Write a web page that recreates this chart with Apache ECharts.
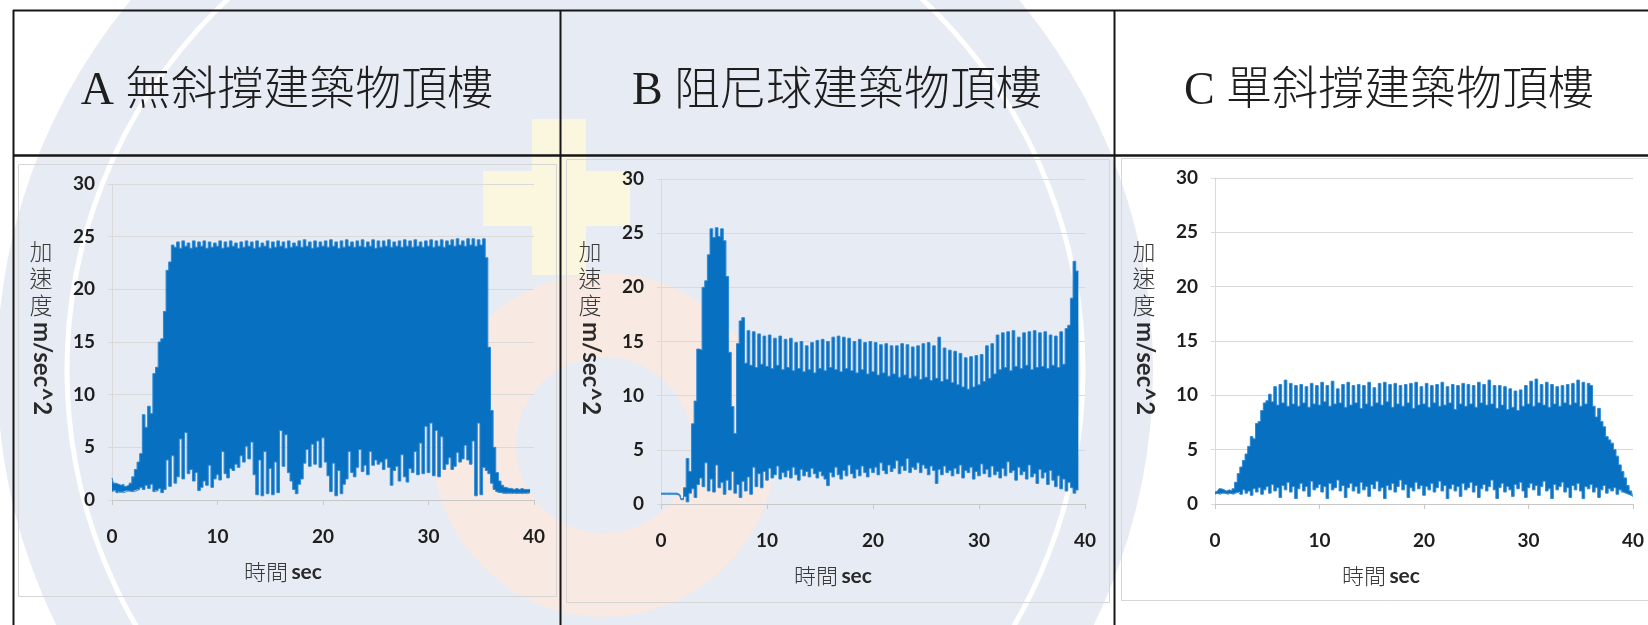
<!DOCTYPE html>
<html>
<head>
<meta charset="utf-8">
<script src="https://cdn.jsdelivr.net/npm/echarts@6/dist/echarts.min.js"></script>
<style>
  html, body { margin: 0; padding: 0; background: #ffffff; }
  #chart { width: 1648px; height: 625px; }
</style>
</head>
<body>
<div id="chart"></div>
<script>
// Rooftop acceleration records, sampled every 0.25 s (envelope of the oscillation).
const SAMPLE_STEP = 0.25;

const panelTitles = ['A 無斜撐建築物頂樓', 'B 阻尼球建築物頂樓', 'C 單斜撐建築物頂樓'];
const timeTicks = [0, 10, 20, 30, 40];
const accelTicks = [0, 5, 10, 15, 20, 25, 30];
const yAxisTitle = ['加速度', 'm/sec^2'];
const xAxisTitle = ['時間', 'sec'];

// A: no bracing — peak / trough envelope (m/sec^2)
const upperA = [
  2.1, 1.6, 1.5, 1.4, 1.5, 1.3, 1.4, 1.6,
  2.2, 2.9, 3.6, 4.4, 8.1, 6.9, 8.9, 8.2,
  12.0, 12.6, 15.0, 15.3, 17.9, 21.8, 22.6, 24.2,
  24.0, 24.5, 23.9, 24.6, 24.1, 24.4, 23.9, 24.6,
  24.0, 24.5, 24.1, 24.6, 23.9, 24.5, 24.0, 24.4,
  24.1, 24.6, 23.9, 24.5, 24.0, 24.6, 24.1, 24.4,
  23.9, 24.5, 24.0, 24.6, 24.1, 24.5, 23.9, 24.6,
  24.0, 24.4, 24.1, 24.6, 23.9, 24.5, 24.0, 24.6,
  24.1, 24.5, 23.9, 24.6, 24.0, 24.4, 24.1, 24.6,
  24.0, 24.7, 24.1, 24.5, 23.9, 24.6, 24.0, 24.5,
  24.1, 24.6, 24.0, 24.7, 24.1, 24.5, 23.9, 24.6,
  24.0, 24.7, 24.1, 24.5, 24.0, 24.6, 24.1, 24.7,
  24.0, 24.5, 24.1, 24.7, 23.9, 24.6, 24.0, 24.6,
  24.1, 24.7, 24.0, 24.5, 24.1, 24.6, 24.0, 24.7,
  24.1, 24.6, 24.0, 24.7, 24.1, 24.5, 24.0, 24.6,
  24.1, 24.7, 24.0, 24.6, 24.1, 24.7, 24.0, 24.6,
  24.2, 24.7, 24.1, 24.8, 24.2, 24.6, 24.1, 24.8,
  24.2, 24.8, 24.1, 24.7, 24.2, 24.8, 23.0, 14.5,
  8.5, 5.0, 2.6, 1.8, 1.4, 1.2, 1.1, 1.1,
  1.0, 1.1, 1.0, 1.1, 1.0, 1.0, 1.0, null,
  null
];
const lowerA = [
  0.8, 0.9, 0.7, 0.8, 0.7, 0.8, 0.9, 0.8,
  0.8, 0.9, 1.0, 1.2, 1.0, 1.4, 1.1, 1.5,
  0.8, 0.9, 1.1, 0.7, 1.0, 3.8, 1.3, 4.2,
  1.6, 2.2, 5.8, 2.0, 6.4, 2.5, 2.9, 1.8,
  2.6, 0.9, 1.2, 1.8, 1.4, 3.3, 1.2, 2.0,
  2.4, 1.9, 4.6, 2.5, 2.1, 3.0, 2.8, 3.4,
  3.1, 4.2, 3.6, 5.1, 3.9, 5.5, 2.4, 0.5,
  3.8, 0.4, 4.6, 0.6, 3.0, 0.5, 3.6, 0.7,
  6.6, 3.2, 6.2, 2.6, 1.8, 1.0, 0.6, 1.5,
  2.0, 3.5, 4.8, 3.2, 5.3, 3.4, 5.6, 3.1,
  5.9, 3.6, 2.3, 0.8, 3.5, 0.4, 2.8, 0.6,
  1.5, 2.0, 4.6, 2.6, 2.2, 3.1, 4.8, 2.7,
  3.3, 2.4, 4.6, 3.3, 3.8, 3.4, 3.6, 2.9,
  3.9, 3.1, 1.4, 2.8, 3.2, 1.8, 4.3, 2.2,
  1.7, 3.0, 2.6, 4.6, 2.4, 5.4, 2.5, 7.0,
  2.6, 7.3, 2.3, 6.6, 2.2, 6.0, 2.9, 3.4,
  4.0, 2.9, 3.2, 4.5, 3.6, 3.9, 5.2, 3.8,
  3.4, 5.6, 0.4, 7.3, 0.5, 3.1, 2.8, 2.5,
  1.6, 1.0, 0.8, 0.7, 0.7, 0.6, 0.7, 0.6,
  0.7, 0.6, 0.7, 0.6, 0.7, 0.6, 0.7, null,
  null
];

// B: damper ball
const upperB = [
  1.0, 1.0, 1.0, 1.0, 1.0, 1.0, 1.0, 0.9,
  0.5, 1.5, 4.2, 3.0, 7.4, 9.5, 14.3, 14.2,
  20.0, 20.6, 23.0, 25.4, 24.6, 25.5, 24.7, 25.4,
  24.3, 21.0, 14.0, 9.0, 6.5, 14.8, 16.9, 17.2,
  13.0, 16.0, 12.8, 15.9, 12.6, 15.7, 12.9, 15.5,
  12.7, 15.6, 12.5, 15.3, 12.8, 15.5, 12.4, 15.2,
  12.6, 15.3, 12.3, 14.9, 12.5, 15.0, 12.2, 14.6,
  12.4, 14.9, 12.1, 15.1, 12.5, 15.2, 12.3, 15.0,
  12.6, 15.4, 12.4, 15.5, 12.2, 15.4, 12.5, 15.3,
  12.3, 15.0, 12.1, 15.2, 12.4, 14.9, 12.0, 15.0,
  12.2, 14.9, 11.9, 14.7, 12.1, 14.8, 11.8, 14.6,
  12.0, 14.6, 11.7, 14.8, 11.9, 14.7, 11.6, 14.5,
  11.8, 14.6, 11.5, 14.8, 11.7, 14.9, 11.4, 14.6,
  11.6, 15.4, 11.3, 14.4, 11.5, 14.2, 11.2, 14.1,
  11.0, 13.9, 10.8, 13.5, 10.6, 13.6, 10.8, 13.7,
  11.0, 13.8, 11.3, 14.6, 11.6, 14.8, 12.0, 15.6,
  12.4, 15.8, 12.6, 15.9, 12.3, 16.0, 12.7, 15.4,
  12.5, 15.8, 12.8, 15.9, 12.4, 16.0, 12.6, 15.8,
  12.7, 15.9, 12.5, 15.6, 12.8, 15.5, 12.6, 15.9,
  12.9, 16.2, 16.5, 19.0, 22.4, 21.5, null, null,
  null
];
const lowerB = [
  0.9, 0.9, 0.9, 0.9, 0.9, 0.9, 0.9, 0.8,
  0.4, 0.7, 0.2, 1.0, 1.4, 0.6, 1.8, 2.4,
  1.6, 3.8, 1.2, 2.3, 1.1, 3.6, 1.5, 2.0,
  0.9, 2.2, 1.3, 3.0, 1.0, 1.8, 0.6, 2.1,
  1.2, 2.5, 0.9, 3.4, 1.6, 2.8, 1.5, 3.0,
  2.2, 3.3, 2.4, 2.7, 3.5, 2.3, 2.9, 2.5,
  3.1, 2.4, 3.4, 2.7, 2.2, 3.2, 2.6, 3.0,
  2.5, 3.3, 2.8, 2.4, 3.0, 2.6, 2.3, 1.7,
  2.9, 2.5, 3.4, 2.7, 2.3, 3.1, 2.6, 3.6,
  2.8, 2.4, 3.2, 2.6, 3.5, 2.9, 2.5, 3.3,
  2.9, 3.4, 2.7, 3.8, 3.1, 2.8, 3.6, 3.0,
  3.3, 4.0, 2.8, 3.5, 3.1, 4.2, 2.9, 3.4,
  3.2, 3.8, 2.9, 3.6, 3.3, 2.7, 3.5, 3.1,
  1.9, 3.2, 2.7, 3.5, 2.9, 3.1, 2.6, 3.3,
  2.8, 3.6, 2.4, 3.1, 2.9, 3.4, 2.3, 3.0,
  2.6, 3.7, 2.8, 3.2, 2.5, 3.5, 2.7, 3.0,
  2.4, 3.3, 2.6, 3.9, 2.9, 3.1, 2.2, 3.4,
  2.7, 3.0, 2.3, 3.6, 2.5, 2.8, 1.9, 3.2,
  2.4, 2.9, 1.8, 3.1, 2.2, 1.6, 2.6, 1.4,
  2.3, 1.2, 2.0, 1.5, 1.0, 1.3, null, null,
  null
];

// C: single diagonal brace
const upperC = [
  1.1, 1.2, 1.4, 1.3, 1.2, 1.3, 1.2, 1.4,
  2.0, 2.8, 3.4, 4.0, 4.6, 5.3, 6.2, 6.0,
  7.4, 7.6, 8.6, 9.3, 9.5, 10.1, 9.4, 10.8,
  9.1, 11.0, 9.3, 11.4, 9.0, 11.1, 9.2, 10.9,
  9.0, 11.0, 9.3, 10.8, 8.9, 11.1, 9.2, 10.9,
  9.1, 11.2, 9.4, 10.9, 9.0, 11.3, 9.2, 10.6,
  9.3, 11.0, 8.9, 11.2, 9.1, 10.9, 9.3, 11.0,
  8.8, 10.9, 9.2, 11.2, 9.0, 10.7, 9.3, 11.1,
  9.1, 11.2, 9.4, 11.0, 8.9, 11.1, 9.2, 10.9,
  9.0, 11.0, 9.3, 11.1, 8.8, 11.2, 9.1, 10.8,
  9.2, 11.1, 8.9, 10.9, 9.3, 11.0, 9.0, 11.2,
  9.1, 10.8, 9.3, 11.0, 8.7, 10.9, 9.2, 11.1,
  9.0, 11.0, 9.2, 10.9, 8.9, 11.2, 9.3, 11.0,
  9.1, 11.4, 9.2, 10.9, 8.8, 10.9, 9.1, 10.8,
  8.7, 10.6, 8.9, 10.4, 8.6, 10.5, 9.0, 10.9,
  9.2, 11.3, 9.0, 11.5, 9.3, 11.0, 9.1, 11.2,
  8.9, 11.0, 9.2, 10.8, 9.0, 10.9, 9.3, 11.0,
  9.1, 11.1, 9.3, 11.4, 9.0, 11.2, 9.2, 11.1,
  10.9, 9.0, 8.0, 8.8, 7.6, 7.1, 6.2, 5.9,
  5.6, 5.0, 4.4, 3.6, 3.0, 2.4, 1.7, 1.2,
  0.9
];
const lowerC = [
  0.9, 1.0, 0.9, 1.0, 1.0, 0.9, 1.0, 0.9,
  1.0, 1.1, 0.9, 1.3, 1.0, 1.2, 0.8, 1.4,
  1.1, 1.5, 0.9, 1.3, 1.6, 1.0, 1.8, 1.2,
  1.5, 0.6, 1.7, 1.3, 2.0, 1.1, 1.6, 0.5,
  1.4, 1.9, 1.2, 1.6, 0.7, 2.1, 1.3, 1.5,
  1.8, 1.1, 1.6, 0.5, 1.9, 1.3, 1.5, 2.2,
  1.2, 1.7, 0.6, 1.5, 1.9, 1.2, 1.6, 1.0,
  2.0, 1.3, 1.6, 0.7, 1.8, 1.4, 2.1, 1.2,
  1.5, 0.5, 1.7, 1.3, 1.9, 1.1, 1.6, 2.2,
  1.3, 1.8, 0.6, 1.5, 1.2, 2.0, 1.4, 1.7,
  0.8, 1.6, 1.3, 1.9, 1.1, 1.5, 2.1, 1.2,
  1.7, 0.5, 1.4, 1.8, 1.2, 1.6, 0.7, 1.9,
  1.3, 1.5, 2.0, 1.1, 1.7, 0.6, 1.4, 1.8,
  1.2, 1.6, 2.2, 1.3, 0.5, 1.5, 1.9, 1.1,
  1.6, 1.3, 0.7, 1.8, 1.4, 2.0, 1.2, 0.6,
  1.5, 1.9, 1.3, 1.7, 0.8, 1.6, 2.1, 1.2,
  1.4, 0.5, 1.8, 1.3, 1.6, 2.0, 1.1, 1.5,
  0.6, 1.7, 1.3, 1.9, 1.2, 0.5, 1.6, 1.4,
  1.8, 1.1, 1.5, 0.6, 1.3, 1.7, 1.0, 1.4,
  1.2, 1.5, 0.9, 1.3, 1.1, 1.0, 0.9, 0.8,
  0.7
];

const records = [
  { upper: upperA, lower: lowerA },
  { upper: upperB, lower: lowerB },
  { upper: upperC, lower: lowerC }
];

// Panel geometry: plot rectangle, chart frame, label anchors.
const panels = [
  { grid: { left: 112, top: 184, width: 422, height: 316 }, frame: [18, 164, 556, 596], titleX: 287, yNameX: 41, xNameX: 283 },
  { grid: { left: 661, top: 179, width: 424, height: 325 }, frame: [566, 159, 1109, 602], titleX: 837, yNameX: 590, xNameX: 833 },
  { grid: { left: 1215, top: 178, width: 418, height: 326 }, frame: [1121, 158, 1668, 600], titleX: 1389, yNameX: 1144, xNameX: 1381 }
];

const FILL = '#0870c0';
const EDGE = '#3189d4';
const AXIS_GREY = '#c8c8c8';
const GRID_GREY = '#dadada';
const LABEL_FONT = 'Lato, "Open Sans", sans-serif';
const CJK_FONT = '"Noto Sans CJK TC", "Noto Sans CJK SC", sans-serif';
const TITLE_FONT = '"Liberation Serif", "Noto Sans CJK TC", serif';

const timeSec = upperA.map((_, i) => i * SAMPLE_STEP);
const timeLabels = timeSec.map(t => String(t));
const isTimeTick = (idx) => timeTicks.indexOf(timeSec[idx]) !== -1;

const grids = [], xAxes = [], yAxes = [], series = [];

panels.forEach((p, i) => {
  grids.push(Object.assign({ containLabel: false, outerBoundsMode: 'none' }, p.grid));

  xAxes.push({
    gridIndex: i,
    type: 'category',
    data: timeLabels,
    boundaryGap: false,
    axisLine: { show: true, lineStyle: { color: AXIS_GREY, width: 1 } },
    axisTick: { show: true, length: 5, interval: isTimeTick, lineStyle: { color: AXIS_GREY } },
    axisLabel: {
      interval: isTimeTick, margin: 27,
      fontFamily: LABEL_FONT, fontWeight: 'bold', fontSize: 19, color: '#1e1e1e'
    },
    splitLine: { show: false }
  });

  yAxes.push({
    gridIndex: i,
    type: 'value',
    min: accelTicks[0],
    max: accelTicks[accelTicks.length - 1],
    interval: accelTicks[1] - accelTicks[0],
    axisLine: { show: true, lineStyle: { color: GRID_GREY } },
    axisTick: { show: true, length: 4, lineStyle: { color: GRID_GREY } },
    axisLabel: { margin: 17, fontFamily: LABEL_FONT, fontWeight: 'bold', fontSize: 19, color: '#1e1e1e' },
    splitLine: { show: true, lineStyle: { color: GRID_GREY, width: 1 } }
  });

  const rec = records[i];
  // band height between trough and peak, stacked on the trough line
  const band = rec.upper.map((u, k) =>
    (u == null || rec.lower[k] == null) ? null : Math.round((u - rec.lower[k]) * 100) / 100);

  series.push({
    name: 'trough' + i, type: 'line', xAxisIndex: i, yAxisIndex: i,
    data: rec.lower, stack: 'env' + i, step: 'middle', symbol: 'none', silent: true,
    lineStyle: { color: EDGE, width: 1 }, z: 3
  });
  series.push({
    name: 'peak' + i, type: 'line', xAxisIndex: i, yAxisIndex: i,
    data: band, stack: 'env' + i, step: 'middle', symbol: 'none', silent: true,
    lineStyle: { color: EDGE, width: 1 },
    areaStyle: { color: FILL, opacity: 1 }, z: 2
  });
});

// Background emblem, table rules and text blocks
const graphics = [];

graphics.push(
  { type: 'circle', silent: true, z: -20, shape: { cx: 575, cy: 370, r: 578 }, style: { fill: '#e7ebf3' } },
  { type: 'ring', silent: true, z: -19, shape: { cx: 604, cy: 445, r: 172, r0: 88 }, style: { fill: '#f8e9e3' } },
  { type: 'rect', silent: true, z: -18, shape: { x: 532, y: 119, width: 54, height: 156 }, style: { fill: '#fbf7de' } },
  { type: 'rect', silent: true, z: -18, shape: { x: 483, y: 171, width: 147, height: 55 }, style: { fill: '#fbf7de' } },
  { type: 'circle', silent: true, z: -17, shape: { cx: 575, cy: 370, r: 508 }, style: { fill: 'none', stroke: '#ffffff', lineWidth: 5 } }
);

panels.forEach((p, i) => {
  const f = p.frame;
  graphics.push({
    type: 'rect', silent: true, z: -5,
    shape: { x: f[0] + 0.5, y: f[1] + 0.5, width: f[2] - f[0], height: f[3] - f[1] },
    style: { fill: 'none', stroke: '#d6d6d6', lineWidth: 1 }
  });
  graphics.push({
    type: 'text', silent: true, z: 30, x: p.titleX, y: 92,
    style: {
      text: panelTitles[i], fontSize: 46, fontFamily: TITLE_FONT, fontWeight: 300,
      fill: '#1e1e1e', textAlign: 'center', textVerticalAlign: 'middle', align: 'center', verticalAlign: 'middle'
    }
  });
  // vertical axis title: stacked CJK characters, then rotated unit
  graphics.push({
    type: 'text', silent: true, z: 30, x: p.yNameX, y: 238,
    style: {
      text: yAxisTitle[0].split('').join('\n'), fontSize: 23, lineHeight: 27, fontFamily: CJK_FONT, fontWeight: 300,
      fill: '#3a3a3a', textAlign: 'center', textVerticalAlign: 'top', align: 'center', verticalAlign: 'top'
    }
  });
  graphics.push({
    type: 'text', silent: true, z: 30, x: p.yNameX + 1, y: 322, rotation: -Math.PI / 2,
    style: {
      text: yAxisTitle[1], fontSize: 24, fontWeight: 'bold', fontFamily: LABEL_FONT,
      fill: '#2a2a2a', textAlign: 'left', textVerticalAlign: 'middle', align: 'left', verticalAlign: 'middle'
    }
  });
  graphics.push({
    type: 'text', silent: true, z: 30, x: p.xNameX, y: p.grid.top + p.grid.height + 72,
    style: {
      text: '{c|' + xAxisTitle[0] + '} {e|' + xAxisTitle[1] + '}',
      textAlign: 'center', textVerticalAlign: 'middle', align: 'center', verticalAlign: 'middle',
      rich: {
        c: { fontSize: 22, fontFamily: CJK_FONT, fontWeight: 300, fill: '#3a3a3a' },
        e: { fontSize: 21, fontWeight: 'bold', fontFamily: LABEL_FONT, fill: '#2a2a2a' }
      }
    }
  });
});

const RULE = '#161616';
[
  [13, 10.5, 1648, 10.5, 2],
  [13, 155.5, 1648, 155.5, 2.5],
  [13.5, 10, 13.5, 625, 2],
  [560.5, 10, 560.5, 625, 2],
  [1114.5, 10, 1114.5, 625, 2]
].forEach(l => {
  graphics.push({
    type: 'line', silent: true, z: 40,
    shape: { x1: l[0], y1: l[1], x2: l[2], y2: l[3] },
    style: { stroke: RULE, lineWidth: l[4] }
  });
});

const chart = echarts.init(document.getElementById('chart'), null, { renderer: 'canvas' });
chart.setOption({
  animation: false,
  backgroundColor: '#ffffff',
  grid: grids,
  xAxis: xAxes,
  yAxis: yAxes,
  series: series,
  graphic: { elements: graphics }
});
</script>
</body>
</html>
